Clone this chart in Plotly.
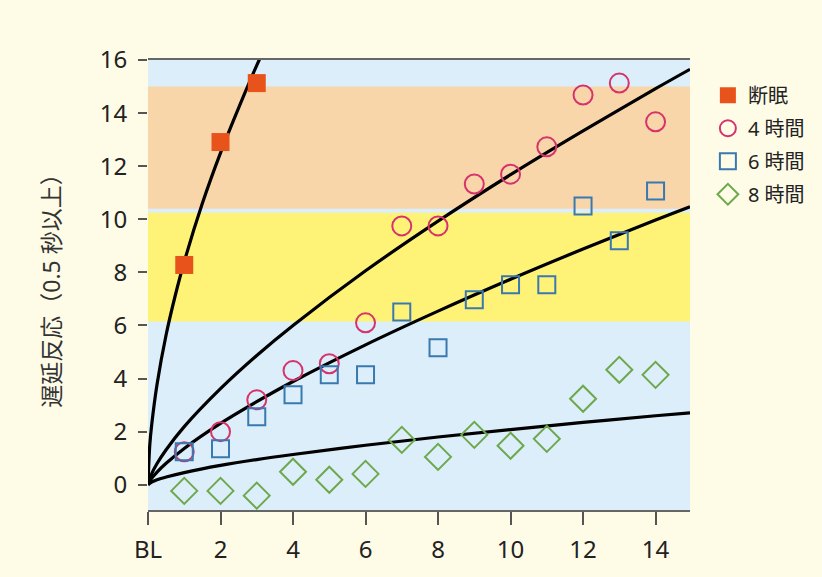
import plotly.graph_objects as go

# ---- data ----
x_days = [1, 2, 3, 4, 5, 6, 7, 8, 9, 10, 11, 12, 13, 14]
sd_x = [1, 2, 3]
sd_y = [8.28, 12.91, 15.13]
h4_y = [1.24, 2.0, 3.2, 4.3, 4.56, 6.1, 9.75, 9.75, 11.33, 11.7, 12.73, 14.68, 15.13, 13.67]
h6_y = [1.24, 1.36, 2.56, 3.39, 4.14, 4.14, 6.51, 5.16, 6.97, 7.53, 7.53, 10.5, 9.19, 11.07]
h8_y = [-0.23, -0.23, -0.41, 0.49, 0.19, 0.41, 1.69, 1.05, 1.88, 1.47, 1.73, 3.24, 4.33, 4.14]

# fitted curves
sd_fit_x = [0, 0.05, 0.1, 0.25, 0.5, 0.75, 1, 1.5, 2, 2.5, 3, 3.2]
sd_fit_y = [0, 1.51, 2.24, 3.79, 5.65, 7.12, 8.4, 10.6, 12.5, 14.2, 15.8, 16.38]
fit_x = [0, 0.1, 0.25, 0.5, 1, 2, 3, 4, 6, 8, 10, 12, 14, 14.95]
h4_fit = [0, 0.41, 0.80, 1.32, 2.19, 3.62, 4.87, 6.00, 8.06, 9.93, 11.68, 13.33, 14.92, 15.65]
h6_fit = [0, 0.24, 0.48, 0.81, 1.37, 2.31, 3.13, 3.89, 5.27, 6.54, 7.74, 8.88, 9.97, 10.47]
h8_fit = [0, 0.10, 0.19, 0.29, 0.46, 0.73, 0.95, 1.14, 1.49, 1.80, 2.08, 2.35, 2.60, 2.71]

# background bands (y ranges)
band_blue = [-0.95, 16]
band_yellow = [6.15, 10.25]
band_orange = [10.4, 15.0]

x_tickvals = [0, 2, 4, 6, 8, 10, 12, 14]
x_ticktext = ["BL", "2", "4", "6", "8", "10", "12", "14"]
y_tickvals = [0, 2, 4, 6, 8, 10, 12, 14, 16]

names = ["断眠", "4 時間", "6 時間", "8 時間"]

XMAX = 14.95
FONT = "Noto Sans, Noto Sans CJK JP, sans-serif"
BG = "#fefbe7"

fig = go.Figure()

for xs, ys in [(sd_fit_x, sd_fit_y), (fit_x, h4_fit), (fit_x, h6_fit), (fit_x, h8_fit)]:
    fig.add_trace(go.Scatter(x=xs, y=ys, mode="lines", line=dict(color="black", width=3.2, shape="spline"),
                             showlegend=False, hoverinfo="skip"))

fig.add_trace(go.Scatter(x=sd_x, y=sd_y, mode="markers", name=names[0], legendgroup="a",
                         marker=dict(symbol="square", size=18, color="#e8531c", line=dict(width=0))))
fig.add_trace(go.Scatter(x=x_days, y=h4_y, mode="markers", name=names[1], legendgroup="b",
                         marker=dict(symbol="circle-open", size=19, color="#d6336c", line=dict(width=2))))
fig.add_trace(go.Scatter(x=x_days, y=h6_y, mode="markers", name=names[2], legendgroup="c",
                         marker=dict(symbol="square-open", size=17, color="#3a78b0", line=dict(width=2))))
fig.add_trace(go.Scatter(x=x_days, y=h8_y, mode="markers", name=names[3], legendgroup="d",
                         marker=dict(symbol="diamond-open", size=20, color="#6ea84c", line=dict(width=2))))

shapes = [
    dict(type="rect", xref="x", yref="y", x0=0, x1=XMAX, y0=band_blue[0], y1=band_blue[1],
         fillcolor="#dbeefa", line=dict(width=0), layer="below"),
    dict(type="rect", xref="x", yref="y", x0=0, x1=XMAX, y0=band_yellow[0], y1=band_yellow[1],
         fillcolor="#fff377", line=dict(width=0), layer="below"),
    dict(type="rect", xref="x", yref="y", x0=0, x1=XMAX, y0=band_orange[0], y1=band_orange[1],
         fillcolor="#f9d6aa", line=dict(width=0), layer="below"),
]

fig.update_layout(
    width=822, height=577,
    margin=dict(l=148, r=132, t=60, b=67, autoexpand=False),
    paper_bgcolor=BG,
    plot_bgcolor=BG,
    shapes=shapes,
    font=dict(family=FONT, color="#222222"),
    xaxis=dict(range=[0, XMAX], tickvals=x_tickvals, ticktext=x_ticktext, automargin=False,
               showgrid=False, zeroline=False, showline=True, mirror=True,
               linecolor="#666666", linewidth=1.5, ticks="outside", ticklen=13,
               tickwidth=1.5, tickcolor="#555555", ticklabelstandoff=4,
               tickfont=dict(size=24, color="#222222")),
    yaxis=dict(range=[band_blue[0], 16], tickvals=y_tickvals, showgrid=False, zeroline=False,
               automargin=False, showline=False, ticks="outside", ticklen=9, tickwidth=1.5,
               tickcolor="#555555", ticklabelstandoff=6,
               tickfont=dict(size=24, color="#222222"),
               title=dict(text="遅延反応（0.5 秒以上）", font=dict(size=23, color="#333333"), standoff=32)),
    legend=dict(x=1.033, y=0.965, xanchor="left", yanchor="top", bgcolor="rgba(0,0,0,0)",
                font=dict(size=20, color="#222222"), itemwidth=30, tracegroupgap=4),
)

fig.write_html("out.html", config={"displayModeBar": False},
               post_script="document.body.style.margin='0';document.body.style.background='%s';" % BG)
